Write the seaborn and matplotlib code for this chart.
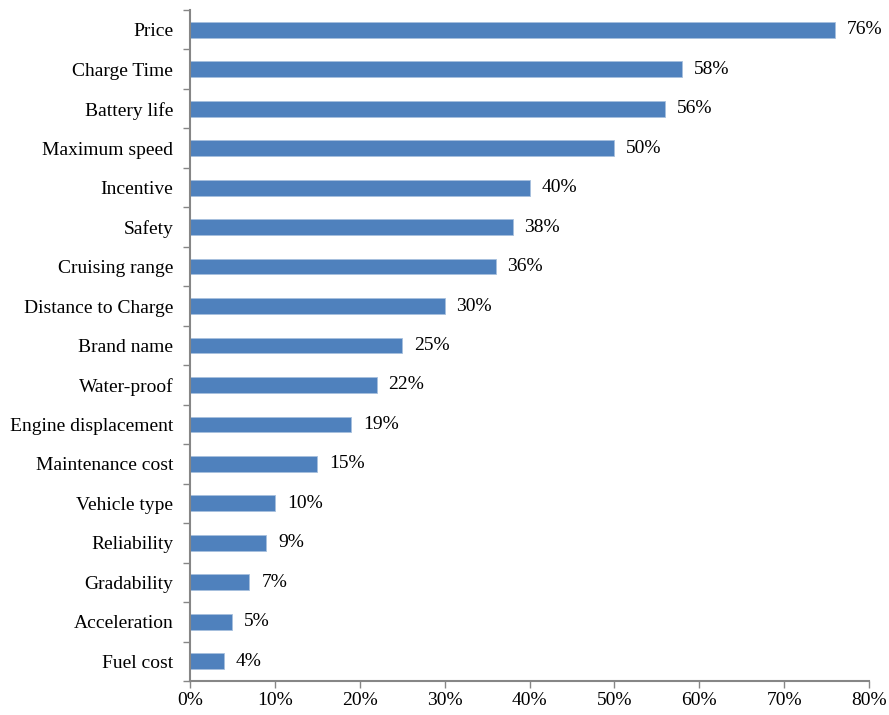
import matplotlib
matplotlib.use("Agg")
import matplotlib.pyplot as plt
import seaborn as sns
import pandas as pd
import numpy as np
from matplotlib.ticker import FixedLocator, PercentFormatter

categories = ["Price", "Charge Time", "Battery life", "Maximum speed", "Incentive",
              "Safety", "Cruising range", "Distance to Charge", "Brand name",
              "Water-proof", "Engine displacement", "Maintenance cost",
              "Vehicle type", "Reliability", "Gradability", "Acceleration", "Fuel cost"]
values = [76, 58, 56, 50, 40, 38, 36, 30, 25, 22, 19, 15, 10, 9, 7, 5, 4]
x_ticks = [0, 10, 20, 30, 40, 50, 60, 70, 80]

df = pd.DataFrame({"factor": categories, "pct": values})

sns.set_theme(style="white")
plt.rcParams["font.family"] = ["Liberation Serif", "DejaVu Serif"]

W, H = 889, 715
left, right, top, bottom = 190, 869, 10, 681
fig = plt.figure(figsize=(W / 100, H / 100), dpi=100)
ax = fig.add_axes([left / W, 1 - bottom / H, (right - left) / W, (bottom - top) / H])

sns.barplot(data=df, y="factor", x="pct", orient="h", color="#4F81BD",
            saturation=1, width=0.4, edgecolor="#A7C0DE", linewidth=0.6, ax=ax)

ax.set_xlim(0, 80)
ax.set_ylim(len(categories) - 0.5, -0.5)
ax.set_xlabel("")
ax.set_ylabel("")
ax.xaxis.set_major_locator(FixedLocator(x_ticks))
ax.xaxis.set_major_formatter(PercentFormatter(decimals=0))

for i, v in enumerate(values):
    ax.text(v + 1.4, i, f"{v}%", va="center", ha="left", fontsize=14, color="#000000")

for s in ["top", "right"]:
    ax.spines[s].set_visible(False)
for s in ["left", "bottom"]:
    ax.spines[s].set_color("#868686")
    ax.spines[s].set_linewidth(1.5)

ax.tick_params(axis="x", which="major", direction="out", length=5, width=1,
               color="#868686", labelsize=14, pad=3, bottom=True, labelcolor="#000000")
ax.tick_params(axis="y", which="major", length=0, labelsize=14, pad=12, left=True,
               labelcolor="#000000")
ax.yaxis.set_minor_locator(FixedLocator(np.arange(-0.5, len(categories), 1.0)))
ax.tick_params(axis="y", which="minor", direction="out", length=5, width=1,
               color="#868686", left=True)

fig.savefig("out.png", dpi=100)
